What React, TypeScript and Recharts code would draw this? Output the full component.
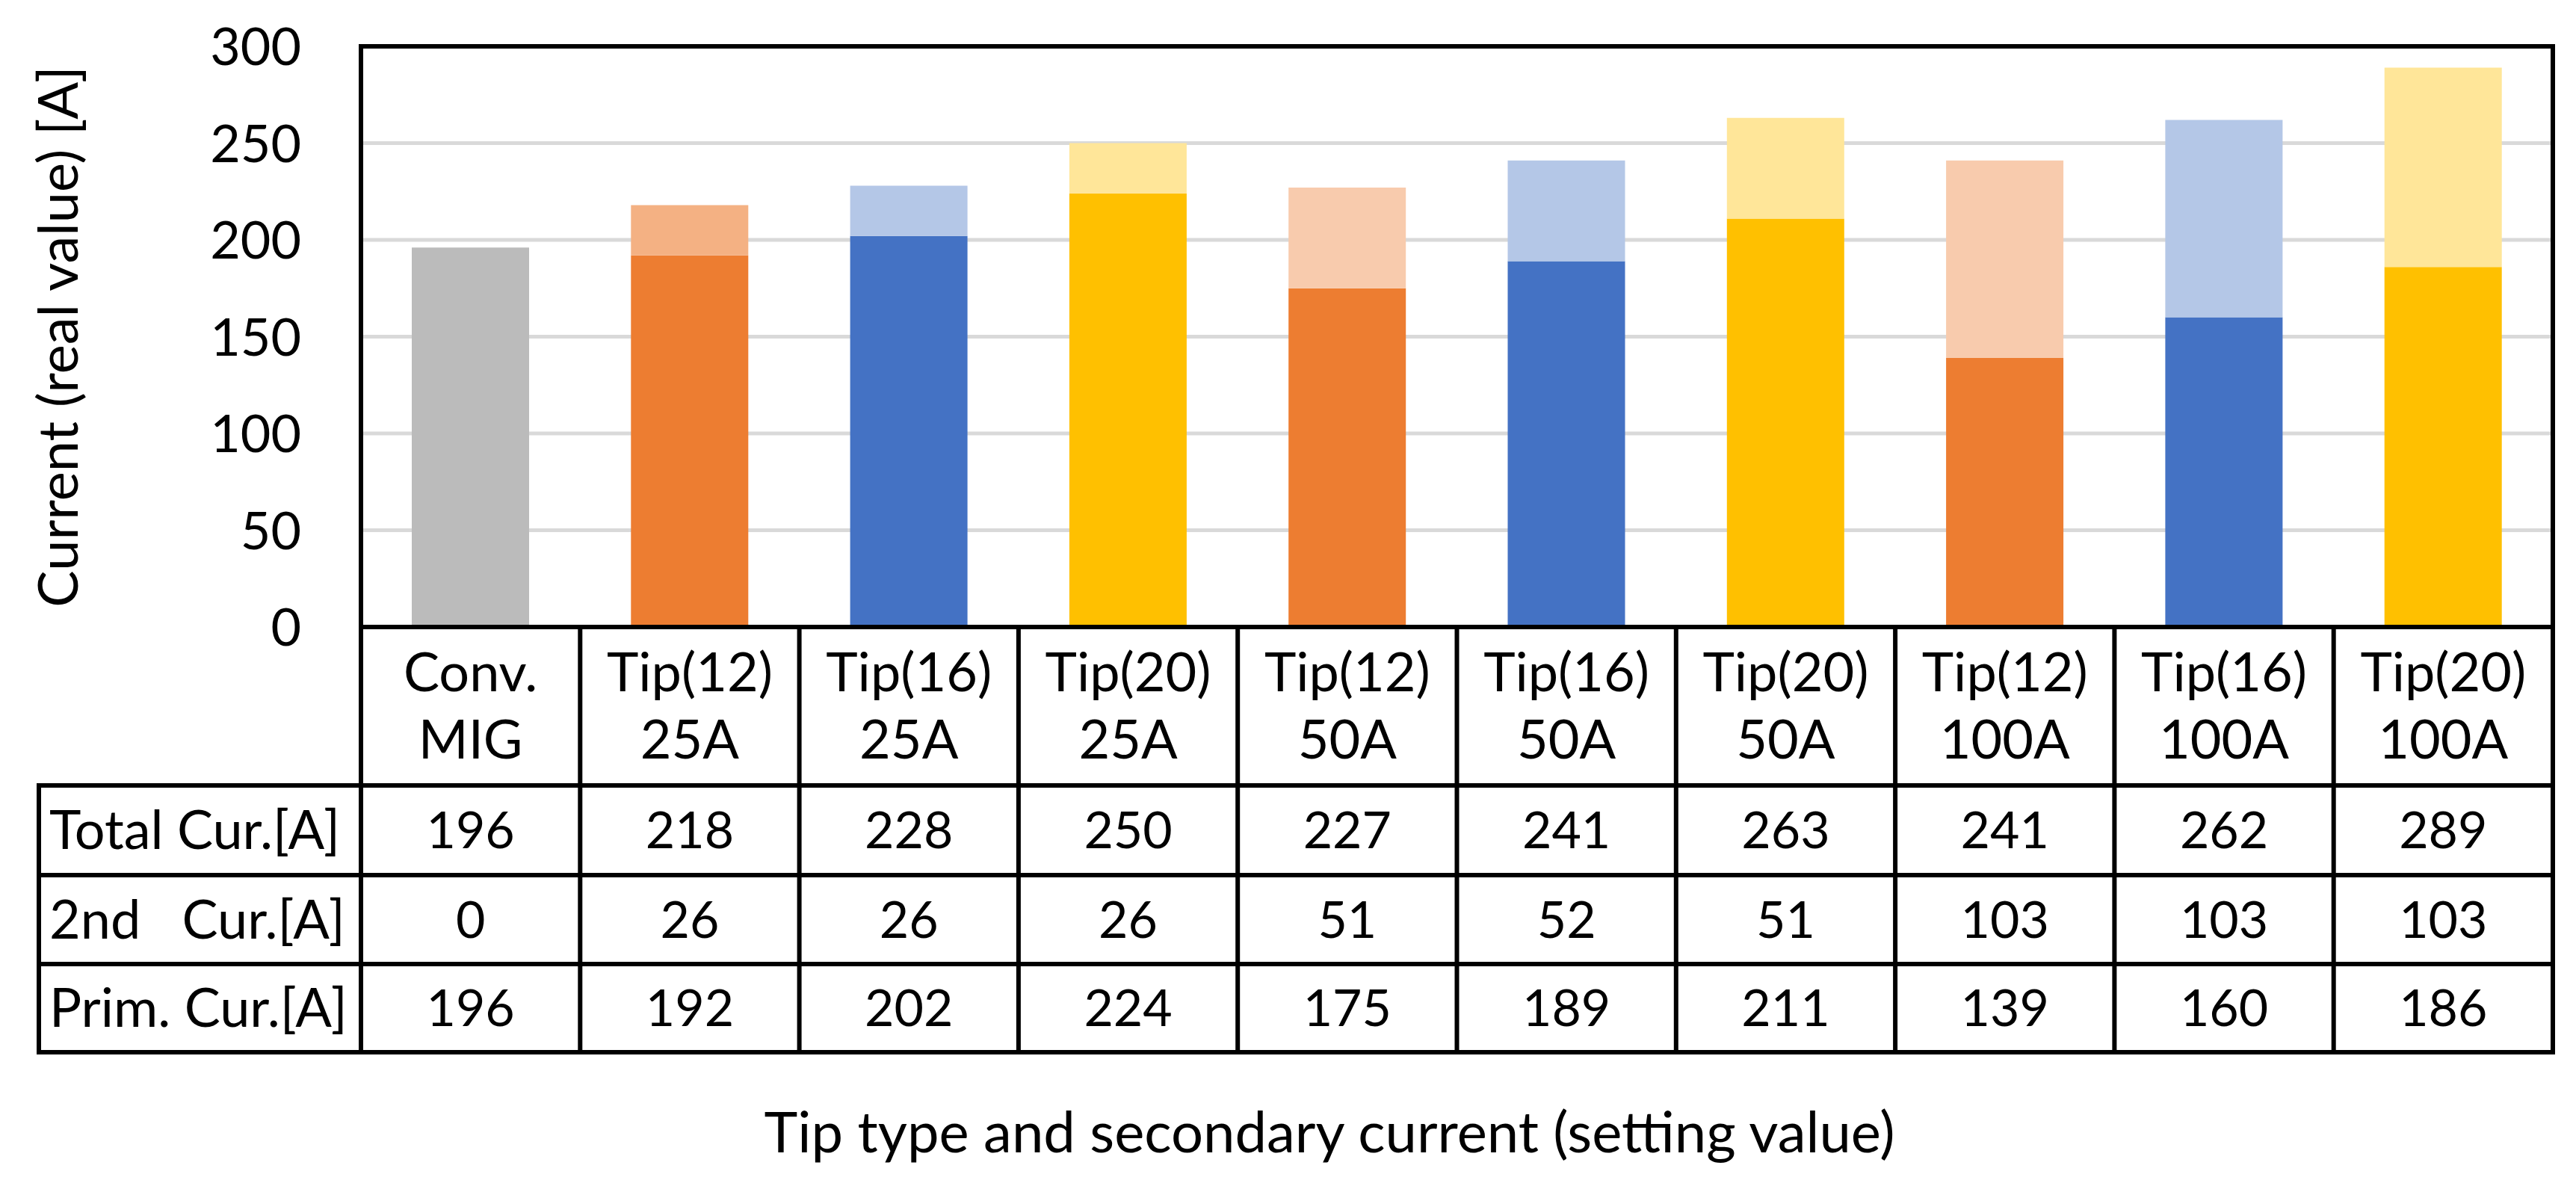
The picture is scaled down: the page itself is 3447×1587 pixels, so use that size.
import React from 'react';
import { Bar, BarChart, CartesianGrid, Cell, XAxis, YAxis } from 'recharts';

// categories (two header lines) and table rows
const tipLabels = ['Conv.', 'Tip(12)', 'Tip(16)', 'Tip(20)', 'Tip(12)', 'Tip(16)', 'Tip(20)', 'Tip(12)', 'Tip(16)', 'Tip(20)'];
const settingLabels = ['MIG', '25A', '25A', '25A', '50A', '50A', '50A', '100A', '100A', '100A'];
const totalCur = [196, 218, 228, 250, 227, 241, 263, 241, 262, 289];
const secondCur = [0, 26, 26, 26, 51, 52, 51, 103, 103, 103];
const primCur = [196, 192, 202, 224, 175, 189, 211, 139, 160, 186];
const rowLabels = ['Total Cur.[A]', '2nd   Cur.[A]', 'Prim. Cur.[A]'];
const yTicks = [0, 50, 100, 150, 200, 250, 300];

const darkColors = ['#BBBBBB', '#ED7D31', '#4472C4', '#FFC000', '#ED7D31', '#4472C4', '#FFC000', '#ED7D31', '#4472C4', '#FFC000'];
const lightColors = ['#BBBBBB', '#F4B183', '#B4C7E7', '#FFE699', '#F8CBAD', '#B4C7E7', '#FFE699', '#F8CBAD', '#B4C7E7', '#FFE699'];

const W = 3447;
const H = 1587;
const PLOT = { left: 483, right: 3416, top: 62, bottom: 839 };
const TABLE_LEFT = 52;
const ROW_LINES = [1051, 1171, 1290, 1408];
const FONT = 'Lato, sans-serif';
const LINE_W = 6;
const COL_HALF = (PLOT.right - PLOT.left) / tipLabels.length / 2;

const data = tipLabels.map((tip, i) => ({
  name: `${tip} ${settingLabels[i]}`,
  prim: primCur[i],
  upper: totalCur[i] - primCur[i],
}));

const tableRows = [totalCur, secondCur, primCur];

function YTick({ y, payload }: any) {
  return (
    <text x={403} y={y} dy={25} textAnchor="end" fontFamily={FONT} fontSize={70} fill="#000">
      {payload.value}
    </text>
  );
}

function TableColumn({ x, index }: any) {
  const left = x - COL_HALF;
  const right = x + COL_HALF;
  const line = { stroke: '#000', strokeWidth: LINE_W, strokeLinecap: 'square' as const };
  return (
    <g>
      <text x={x} y={925} textAnchor="middle" fontFamily={FONT} fontSize={72} fill="#000">
        {tipLabels[index]}
      </text>
      <text x={x} y={1015} textAnchor="middle" fontFamily={FONT} fontSize={72} fill="#000">
        {settingLabels[index]}
      </text>
      {tableRows.map((row, r) => (
        <text
          key={r}
          x={x}
          y={(ROW_LINES[r] + ROW_LINES[r + 1]) / 2 + 24}
          textAnchor="middle"
          fontFamily={FONT}
          fontSize={68}
          fill="#000"
        >
          {row[index]}
        </text>
      ))}
      {ROW_LINES.map((ly) => (
        <line key={ly} x1={left} x2={right} y1={ly} y2={ly} {...line} />
      ))}
      <line x1={right} x2={right} y1={PLOT.bottom} y2={ROW_LINES[3]} {...line} />
      {index === 0 && (
        <g>
          <line x1={left} x2={left} y1={PLOT.bottom} y2={ROW_LINES[3]} {...line} />
          <line x1={TABLE_LEFT} x2={TABLE_LEFT} y1={ROW_LINES[0]} y2={ROW_LINES[3]} {...line} />
          {ROW_LINES.map((ly) => (
            <line key={ly} x1={TABLE_LEFT} x2={left} y1={ly} y2={ly} {...line} />
          ))}
          {rowLabels.map((label, r) => (
            <text
              key={label}
              x={66}
              y={(ROW_LINES[r] + ROW_LINES[r + 1]) / 2 + 25}
              fontFamily={FONT}
              fontSize={72}
              fill="#000"
              style={{ whiteSpace: 'pre' }}
            >
              {label}
            </text>
          ))}
        </g>
      )}
    </g>
  );
}

function YTitle({ viewBox }: any) {
  const cy = viewBox ? viewBox.y + viewBox.height / 2 : 458;
  return (
    <text
      x={75}
      y={cy}
      transform={`rotate(-90, 75, ${cy})`}
      textAnchor="middle"
      dominantBaseline="central"
      fontFamily={FONT}
      fontSize={74}
      fill="#000"
    >
      Current (real value) [A]
    </text>
  );
}

function XTitle() {
  return (
    <text x={1779} y={1542} textAnchor="middle" fontFamily={FONT} fontSize={76} fill="#000">
      Tip type and secondary current (setting value)
    </text>
  );
}

export default function App() {
  const frame = { stroke: '#000', strokeWidth: LINE_W, strokeLinecap: 'square' as const };
  return (
    <div style={{ position: 'absolute', left: 0, top: 0, width: W, height: H, background: '#fff' }}>
      <BarChart
        width={W}
        height={H}
        data={data}
        margin={{ top: PLOT.top - 1, right: W - PLOT.right - 1, left: PLOT.left - 100, bottom: H - PLOT.bottom - 100 }}
      >
        <CartesianGrid vertical={false} stroke="#D9D9D9" strokeWidth={5} />
        <XAxis
          dataKey="name"
          height={100}
          interval={0}
          axisLine={frame}
          tickLine={false}
          tick={<TableColumn />}
          label={{ content: <XTitle /> }}
        />
        <XAxis
          xAxisId="top"
          dataKey="name"
          orientation="top"
          height={1}
          axisLine={frame}
          tickLine={false}
          tick={false}
        />
        <YAxis
          width={100}
          domain={[0, 300]}
          ticks={yTicks}
          interval={0}
          axisLine={frame}
          tickLine={false}
          tick={<YTick />}
          label={{ content: <YTitle /> }}
        />
        <YAxis
          yAxisId="right"
          orientation="right"
          width={1}
          domain={[0, 300]}
          axisLine={frame}
          tickLine={false}
          tick={false}
        />
        <Bar dataKey="prim" stackId="a" barSize={157} isAnimationActive={false}>
          {data.map((_, i) => (
            <Cell key={i} fill={darkColors[i]} />
          ))}
        </Bar>
        <Bar dataKey="upper" stackId="a" barSize={157} isAnimationActive={false}>
          {data.map((_, i) => (
            <Cell key={i} fill={lightColors[i]} />
          ))}
        </Bar>
      </BarChart>
    </div>
  );
}
